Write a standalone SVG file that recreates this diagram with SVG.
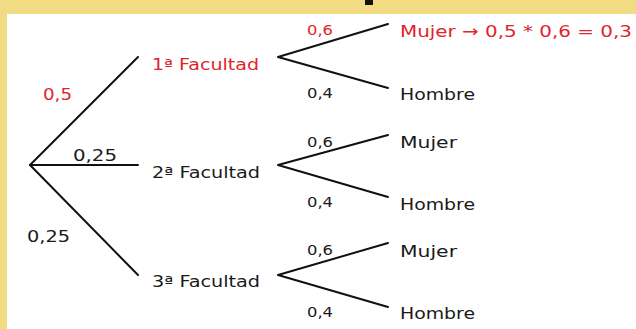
<svg xmlns="http://www.w3.org/2000/svg" width="636" height="329" viewBox="0 0 636 329">
<style>
.t{font-family:"DejaVu Sans","Open Sans",sans-serif;font-size:16px;fill:#1a1a1a}
.p{font-family:"DejaVu Sans","Open Sans",sans-serif;font-size:14px;fill:#1a1a1a}
.r{fill:#e0242c}
.e{stroke:#111;stroke-width:2;fill:none;stroke-linecap:round;stroke-linejoin:round}
</style>
<rect x="0" y="0" width="636" height="329" fill="#f1dc84"/>
<rect x="7" y="14" width="629" height="315" fill="#ffffff"/>
<rect x="365" y="0" width="8" height="5" fill="#111"/>
<g id="connectors">
<polyline class="e" points="138,57 30,165 138,275"/>
<line class="e" x1="30" y1="165" x2="138" y2="165"/>
<polyline class="e" points="388,24 278,57 388,88"/>
<polyline class="e" points="388,135 278,165 388,197"/>
<polyline class="e" points="388,243 278,275 388,307"/>
</g>
<g id="edge-labels">
<text class="t r" x="43" y="100" textLength="29" lengthAdjust="spacingAndGlyphs">0,5</text>
<text class="t" x="73" y="161" textLength="44" lengthAdjust="spacingAndGlyphs">0,25</text>
<text class="t" x="27" y="242" textLength="43" lengthAdjust="spacingAndGlyphs">0,25</text>
<text class="p r" x="307" y="35" textLength="26" lengthAdjust="spacingAndGlyphs">0,6</text>
<text class="p" x="307" y="98" textLength="26" lengthAdjust="spacingAndGlyphs">0,4</text>
<text class="p" x="307" y="147" textLength="26" lengthAdjust="spacingAndGlyphs">0,6</text>
<text class="p" x="307" y="207" textLength="26" lengthAdjust="spacingAndGlyphs">0,4</text>
<text class="p" x="307" y="255" textLength="26" lengthAdjust="spacingAndGlyphs">0,6</text>
<text class="p" x="307" y="317" textLength="26" lengthAdjust="spacingAndGlyphs">0,4</text>
</g>
<g id="f1"><text class="t r" x="152" y="70" textLength="107" lengthAdjust="spacingAndGlyphs">1ª Facultad</text></g>
<g id="f2"><text class="t" x="152" y="178" textLength="108" lengthAdjust="spacingAndGlyphs">2ª Facultad</text></g>
<g id="f3"><text class="t" x="152" y="287" textLength="108" lengthAdjust="spacingAndGlyphs">3ª Facultad</text></g>
<g id="m1"><text class="t r" x="400" y="37" textLength="232" lengthAdjust="spacingAndGlyphs">Mujer → 0,5 * 0,6 = 0,3</text></g>
<g id="h1"><text class="t" x="400" y="100" textLength="75" lengthAdjust="spacingAndGlyphs">Hombre</text></g>
<g id="m2"><text class="t" x="400" y="148" textLength="57" lengthAdjust="spacingAndGlyphs">Mujer</text></g>
<g id="h2"><text class="t" x="400" y="210" textLength="75" lengthAdjust="spacingAndGlyphs">Hombre</text></g>
<g id="m3"><text class="t" x="400" y="257" textLength="57" lengthAdjust="spacingAndGlyphs">Mujer</text></g>
<g id="h3"><text class="t" x="400" y="319" textLength="75" lengthAdjust="spacingAndGlyphs">Hombre</text></g>
</svg>
